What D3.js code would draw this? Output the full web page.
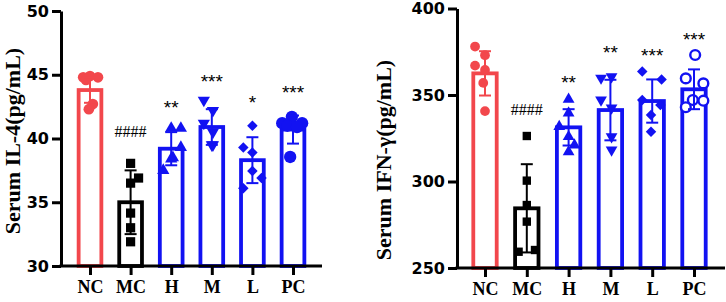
<!DOCTYPE html>
<html><head><meta charset="utf-8">
<script src="https://cdn.jsdelivr.net/npm/d3@7"></script>
<style>body{margin:0;background:#fff;} svg{display:block;}</style>
</head><body>
<svg id="chart" width="726" height="302"></svg>
<script>
const categories = ["NC","MC","H","M","L","PC"];

const il4Mean = [43.8, 35.0, 39.2, 40.9, 38.3, 40.7];
const il4SD = [1.0, 2.5, 1.3, 1.4, 1.8, 1.1];
const il4Points = [
  [44.8, 44.9, 44.8, 44.6, 42.7, 42.3],
  [38.05, 36.9, 36.5, 34.15, 33.0, 31.9],
  [40.8, 40.8, 39.3, 38.5, 37.5, 38.4],
  [43.0, 42.2, 41.2, 40.5, 39.5, 39.5],
  [41.0, 39.3, 38.9, 37.45, 36.9, 36.1],
  [41.7, 41.2, 41.2, 41.0, 40.9, 38.55]
];
const il4Jitter = [
  [-0.6, 0, 0.7, -0.35, 0.25, -0.1],
  [0, 0.7, 0, 0, 0, 0],
  [0, 0.85, 0.85, 0.15, -0.7, 0],
  [-0.7, 0.1, -0.7, 0.1, 0.1, 0],
  [0, -0.8, 0, 0, 0.8, -0.8],
  [-0.1, -0.95, 0.8, -0.5, 0.35, -0.25]
];
const il4Sig = ["", "####", "**", "***", "*", "***"];
const il4SigLevel = [null, 40.1, 41.9, 44.0, 42.3, 43.1];
const il4Ticks = [30, 35, 40, 45, 50];

const ifnMean = [362.5, 284.5, 331.3, 341.3, 346.5, 353.3];
const ifnSD = [12.8, 25.5, 10.5, 17.5, 12.5, 11.5];
const ifnPoints = [
  [378, 373, 367, 364.5, 357, 340.7],
  [326.3, 300.5, 286.4, 276.8, 259.4, 260.4],
  [347.5, 339.6, 331.7, 325.9, 321, 317.2],
  [359.8, 360.6, 347.1, 342.5, 325.9, 318.2],
  [363.6, 359, 347.1, 344.2, 338.4, 328.8],
  [373.1, 359.6, 356.7, 347.1, 346.7, 342.9]
];
const ifnJitter = [
  [-0.85, 0, -0.85, 0, -0.15, 0],
  [0, 0, 0, 0, -0.7, 0.7],
  [0, 0, -0.8, 0, 0.5, 0],
  [-0.8, 0.1, -0.8, 0.1, 0.1, 0.1],
  [-0.85, 0.8, -0.85, 0.7, -0.1, -0.1],
  [0.1, -0.7, 0.8, -0.1, 0.8, -0.7]
];
const ifnSig = ["", "####", "**", "**", "***", "***"];
const ifnSigLevel = [null, 338.7, 353.6, 370.8, 369.2, 378.3];
const ifnTicks = [250, 300, 350, 400];

const RED = "#F2474C", BLUE = "#1212F2", BLACK = "#000000";
const groupColor = [RED, BLACK, BLUE, BLUE, BLUE, BLUE];

const svg = d3.select("#chart");

function panel(opt) {
  const g = svg.append("g");
  const y = d3.scaleLinear().domain(opt.domain).range([opt.bottom, opt.top]);
  const x = d3.scalePoint().domain(categories).range([opt.x0, opt.x1]);
  const step = x.step();
  const bw = step * 0.56;
  const half = bw / 2;

  categories.forEach((c, i) => {
    const cx = x(c);
    const col = groupColor[i];
    g.append("rect")
      .attr("x", cx - half).attr("width", bw)
      .attr("y", y(opt.mean[i])).attr("height", opt.bottom - y(opt.mean[i]))
      .attr("fill", "#fff").attr("stroke", col).attr("stroke-width", 3.8);
  });

  categories.forEach((c, i) => {
    const cx = x(c);
    const col = groupColor[i];
    const shp = opt.shapes[i];
    opt.points[i].forEach((v, j) => {
      const px = cx + opt.jitter[i][j] * half;
      const py = y(v);
      const p = g.append("path")
        .attr("d", d3.symbol().type(shp.type).size(shp.size)())
        .attr("transform", `translate(${px},${py}) rotate(${shp.rot || 0})`);
      if (shp.open) {
        p.attr("fill", "#fff").attr("stroke", col).attr("stroke-width", 2.4);
      } else {
        p.attr("fill", col);
      }
    });
  });

  categories.forEach((c, i) => {
    const cx = x(c);
    const col = groupColor[i];
    const hi = y(opt.mean[i] + opt.sd[i]);
    const lo = y(opt.mean[i] - opt.sd[i]);
    g.append("line").attr("x1", cx).attr("x2", cx).attr("y1", hi).attr("y2", lo)
      .attr("stroke", col).attr("stroke-width", 2);
    [hi, lo].forEach(yy => {
      g.append("line").attr("x1", cx - 6).attr("x2", cx + 6).attr("y1", yy).attr("y2", yy)
        .attr("stroke", col).attr("stroke-width", 2);
    });
  });

  categories.forEach((c, i) => {
    if (!opt.sig[i]) return;
    const isHash = opt.sig[i].startsWith("#");
    g.append("text")
      .attr("x", x(c)).attr("y", y(opt.sigLevel[i]))
      .attr("text-anchor", "middle")
      .attr("font-family", isHash ? "'Liberation Serif', serif" : "'Liberation Sans', Arial, sans-serif")
      .attr("font-size", isHash ? 16 : 19)
      .attr("fill", "#000")
      .text(opt.sig[i]);
  });

  const ya = g.append("g").attr("transform", `translate(${opt.axisX},0)`)
    .call(d3.axisLeft(y).tickValues(opt.ticks).tickSize(9).tickSizeOuter(0).tickPadding(3));
  ya.select(".domain").attr("stroke-width", 3).attr("stroke", "#000");
  ya.selectAll(".tick line").attr("stroke-width", 3).attr("stroke", "#000");
  ya.selectAll(".tick text").attr("font-family", "'DejaVu Sans', sans-serif")
    .attr("font-weight", "bold").attr("font-size", 16).attr("fill", "#000");

  const xa = g.append("g").attr("transform", `translate(0,${opt.bottom})`)
    .call(d3.axisBottom(x).tickSize(9).tickSizeOuter(0).tickPadding(5));
  xa.select(".domain").remove();
  xa.append("line").attr("x1", opt.axisX - 1.5).attr("x2", opt.xEnd).attr("y1", 0).attr("y2", 0)
    .attr("stroke", "#000").attr("stroke-width", 3);
  xa.selectAll(".tick line").attr("stroke-width", 3).attr("stroke", "#000");
  xa.selectAll(".tick text").attr("font-family", "'Liberation Serif', 'Times New Roman', serif")
    .attr("font-weight", "bold").attr("font-size", 18).attr("fill", "#000");

  g.append("text")
    .attr("transform", `translate(${opt.titleX},${opt.titleY}) rotate(-90)`)
    .attr("text-anchor", "middle")
    .attr("font-family", "'Liberation Serif', 'Times New Roman', serif")
    .attr("font-weight", "bold").attr("font-size", 22).attr("fill", "#000")
    .text(opt.title);
}

const shapesIL4 = [
  {type: d3.symbolCircle, size: 90},
  {type: d3.symbolSquare, size: 85},
  {type: d3.symbolTriangle, size: 65},
  {type: d3.symbolTriangle, size: 65, rot: 180},
  {type: d3.symbolSquare, size: 55, rot: 45},
  {type: d3.symbolCircle, size: 120}
];
const shapesIFN = [
  {type: d3.symbolCircle, size: 75},
  {type: d3.symbolSquare, size: 70},
  {type: d3.symbolTriangle, size: 60},
  {type: d3.symbolTriangle, size: 60, rot: 180},
  {type: d3.symbolSquare, size: 55, rot: 45},
  {type: d3.symbolCircle, size: 75, open: true}
];

panel({
  domain: [30, 50], top: 11, bottom: 266, x0: 90, x1: 293, axisX: 61, xEnd: 322,
  mean: il4Mean, sd: il4SD, points: il4Points, jitter: il4Jitter,
  sig: il4Sig, sigLevel: il4SigLevel, ticks: il4Ticks, shapes: shapesIL4,
  title: "Serum IL-4(pg/mL)", titleX: 20, titleY: 141
});
panel({
  domain: [250, 400], top: 8.5, bottom: 268, x0: 485, x1: 694, axisX: 457, xEnd: 725,
  mean: ifnMean, sd: ifnSD, points: ifnPoints, jitter: ifnJitter,
  sig: ifnSig, sigLevel: ifnSigLevel, ticks: ifnTicks, shapes: shapesIFN,
  title: "Serum IFN-γ(pg/mL)", titleX: 391, titleY: 160
});
</script>
</body></html>
